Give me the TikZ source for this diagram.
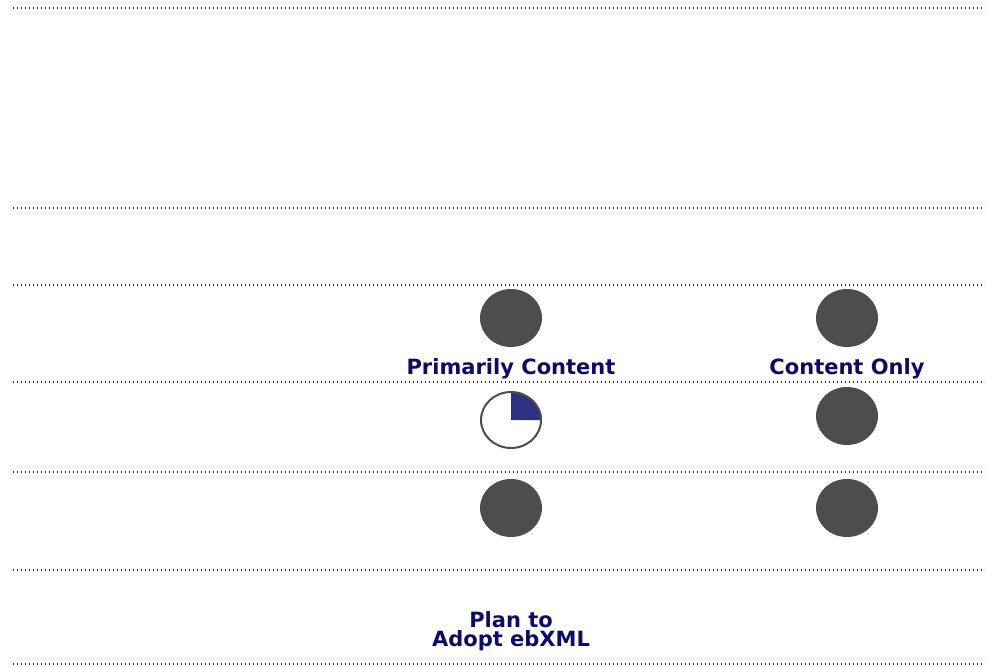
\documentclass[tikz,border=0pt]{standalone}
\usepackage{fontspec}
\setmainfont{DejaVu Sans}
\definecolor{rulecol}{HTML}{2020B0}
\definecolor{labelcol}{HTML}{0B0B6B}
\definecolor{dotgray}{HTML}{4D4D4D}
\definecolor{piefill}{HTML}{2E3082}
\tikzset{
  rowline/.style={rulecol, line width=1.3pt, dash pattern=on 1.3pt off 2.7pt},
  fullmark/.style={ellipse, fill=dotgray, minimum width=62pt, minimum height=58pt, inner sep=0pt},
  collabel/.style={text=labelcol, font=\bfseries\fontsize{21}{19}\selectfont, align=center}
}
\usetikzlibrary{shapes.geometric}
\begin{document}
\begin{tikzpicture}[x=1pt,y=-1pt]
\useasboundingbox (0,0) rectangle (986,667);
% row separators
\foreach \yy in {8,208,285,382,472,570,664}
  \draw[rowline] (13,\yy) -- (985,\yy);
% marks
\node[fullmark] (pc1) at (511,318) {};
\node[fullmark] (co1) at (847,318) {};
\node[fullmark] (co2) at (847,416) {};
\node[fullmark] (pc3) at (511,508) {};
\node[fullmark] (co3) at (847,508) {};
% quarter mark
\coordinate (pc2) at (511,420);
\fill[piefill] (pc2) -- (542,420) arc[start angle=0, end angle=90, x radius=31, y radius=-28] -- cycle;
\draw[dotgray, line width=2pt] (pc2) ellipse[x radius=30, y radius=28];
% labels
\node[collabel] (primarily) at (511,369) {Primarily Content};
\node[collabel] (only) at (847,369) {Content Only};
\node[collabel] (plan) at (511,631) {Plan to\\Adopt ebXML};
\end{tikzpicture}
\end{document}
